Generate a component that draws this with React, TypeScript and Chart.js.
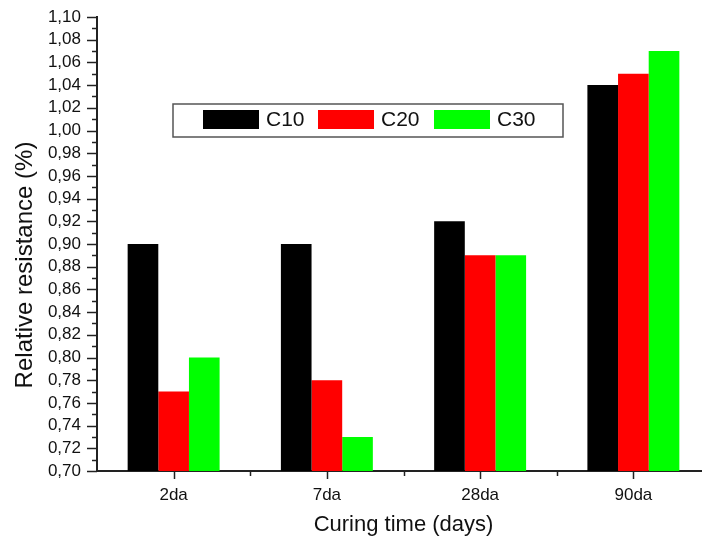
import React, { useEffect, useRef } from "react";
import { Chart, registerables } from "chart.js";

Chart.register(...registerables);

const categories = ["2da", "7da", "28da", "90da"];
const seriesNames = ["C10", "C20", "C30"];
const c10Values = [0.9, 0.9, 0.92, 1.04];
const c20Values = [0.77, 0.78, 0.89, 1.05];
const c30Values = [0.8, 0.73, 0.89, 1.07];
const seriesColors = ["#000000", "#ff0000", "#00ff00"];
const yMin = 0.7;
const yMax = 1.1;
const yStep = 0.02;
const yTitle = "Relative resistance (%)";
const xTitle = "Curing time (days)";

const FONT = "'Liberation Sans', Arial, sans-serif";

const decorPlugin = {
  id: "decor",
  afterDraw(chart: any) {
    const ctx = chart.ctx;
    const ys = chart.scales.y;
    const xs = chart.scales.x;
    const area = chart.chartArea;
    ctx.save();
    ctx.strokeStyle = "#222";
    ctx.lineWidth = 1.5;
    // y ticks (major + minor)
    const nMinor = Math.round((yMax - yMin) / (yStep / 2));
    for (let i = 0; i <= nMinor; i++) {
      const v = yMin + (i * yStep) / 2;
      const py = Math.round(ys.getPixelForValue(v)) + 0.5;
      const len = i % 2 === 0 ? 10 : 5;
      ctx.beginPath();
      ctx.moveTo(area.left, py);
      ctx.lineTo(area.left - len, py);
      ctx.stroke();
    }
    // x ticks
    const n = categories.length;
    for (let i = 0; i < n; i++) {
      const px = Math.round(xs.getPixelForTick(i)) + 0.5;
      ctx.beginPath();
      ctx.moveTo(px, area.bottom);
      ctx.lineTo(px, area.bottom + 8);
      ctx.stroke();
      if (i < n - 1) {
        const mx = Math.round((xs.getPixelForTick(i) + xs.getPixelForTick(i + 1)) / 2) + 0.5;
        ctx.beginPath();
        ctx.moveTo(mx, area.bottom);
        ctx.lineTo(mx, area.bottom + 5);
        ctx.stroke();
      }
    }
    // axis titles
    ctx.fillStyle = "#111";
    ctx.font = `22px ${FONT}`;
    ctx.textAlign = "center";
    ctx.textBaseline = "middle";
    ctx.fillText(xTitle, (area.left + area.right) / 2, 525);
    ctx.save();
    ctx.translate(25, 265);
    ctx.rotate(-Math.PI / 2);
    ctx.font = `24px ${FONT}`;
    ctx.fillText(yTitle, 0, 0);
    ctx.restore();

    // legend
    const bx = 173, by = 104, bw = 390, bh = 33;
    ctx.fillStyle = "#fff";
    ctx.fillRect(bx, by, bw, bh);
    ctx.strokeStyle = "#555";
    ctx.lineWidth = 1.5;
    ctx.strokeRect(bx, by, bw, bh);
    const swatchX = [203, 318, 434];
    ctx.font = `21px ${FONT}`;
    ctx.textAlign = "left";
    ctx.textBaseline = "middle";
    chart.data.datasets.forEach((ds: any, i: number) => {
      ctx.fillStyle = ds.backgroundColor;
      ctx.fillRect(swatchX[i], 110, 56, 19);
      ctx.fillStyle = "#111";
      ctx.fillText(ds.label, swatchX[i] + 63, 120);
    });
    ctx.restore();
  },
};

export default function App() {
  const ref = useRef<HTMLCanvasElement | null>(null);
  useEffect(() => {
    if (!ref.current) return;
    const values = [c10Values, c20Values, c30Values];
    const chart = new Chart(ref.current, {
      type: "bar",
      data: {
        labels: categories,
        datasets: seriesNames.map((name, i) => ({
          label: name,
          data: values[i],
          backgroundColor: seriesColors[i],
          borderWidth: 0,
          categoryPercentage: 0.6,
          barPercentage: 1.0,
        })),
      },
      options: {
        animation: false,
        responsive: false,
        devicePixelRatio: 1,
        layout: { padding: { top: 17, left: 0, right: 0, bottom: 0 } },
        plugins: {
          legend: { display: false },
          tooltip: { enabled: false },
          title: { display: false },
        },
        scales: {
          x: {
            type: "category",
            offset: true,
            grid: { display: false, drawTicks: false },
            border: { display: true, color: "#222", width: 2 },
            ticks: {
              color: "#111",
              font: { family: FONT, size: 17 },
              padding: 14,
              maxRotation: 0,
              autoSkip: false,
            },
            afterFit: (s: any) => {
              s.height = 73;
              s.paddingLeft = 0;
              s.paddingRight = 0;
            },
          },
          y: {
            min: yMin,
            max: yMax,
            grid: { display: false, drawTicks: false },
            border: { display: true, color: "#222", width: 2 },
            ticks: {
              stepSize: yStep,
              autoSkip: false,
              color: "#111",
              font: { family: FONT, size: 17 },
              padding: 16,
              callback: (v: any) => Number(v).toFixed(2).replace(".", ","),
            },
            afterFit: (s: any) => {
              s.width = 97;
              s.paddingTop = 0;
              s.paddingBottom = 0;
            },
          },
        },
      },
      plugins: [decorPlugin],
    });
    return () => chart.destroy();
  }, []);
  return (
    <div
      style={{
        position: "fixed",
        left: 0,
        top: 0,
        width: 702,
        height: 544,
        overflow: "hidden",
        background: "#fff",
      }}
    >
      <canvas ref={ref} width={710} height={544} style={{ width: 710, height: 544, display: "block" }} />
    </div>
  );
}
